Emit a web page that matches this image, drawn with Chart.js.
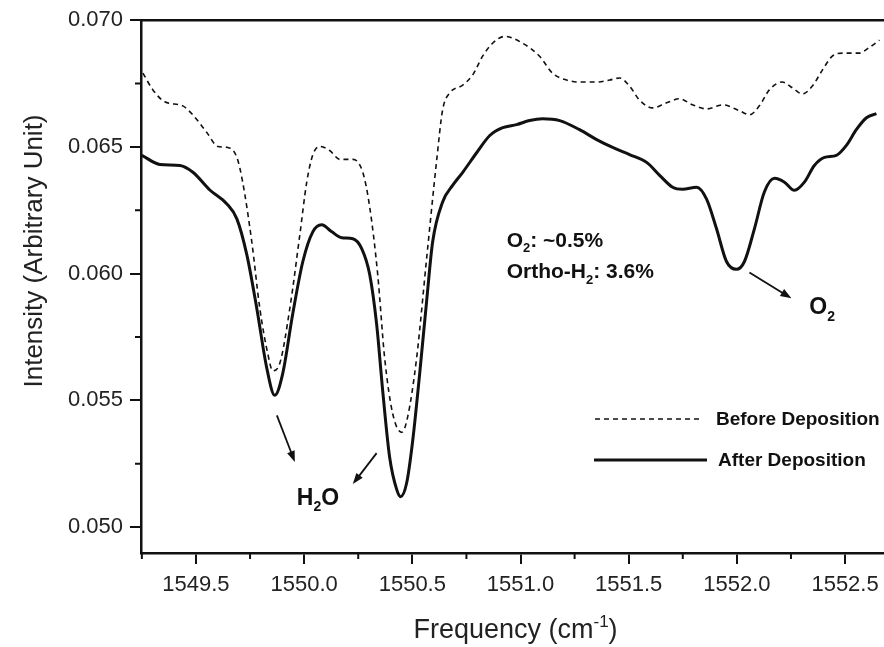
<!DOCTYPE html>
<html lang="en">
<head>
<meta charset="UTF-8">
<title>Before / After Deposition</title>
<script src="https://cdn.jsdelivr.net/npm/chart.js"></script>
<style>
  html, body { margin: 0; padding: 0; background: #fff; }
</style>
</head>
<body>
<canvas id="myChart" width="884" height="647"></canvas>
<script>
const beforeFreq = [1549.255,1549.301,1549.356,1549.439,1549.485,1549.550,1549.601,1549.647,1549.689,1549.716,
  1549.758,1549.795,1549.832,1549.855,1549.887,1549.934,1549.980,1550.012,1550.039,1550.072,
  1550.118,1550.165,1550.225,1550.271,1550.303,1550.340,1550.372,1550.409,1550.451,1550.478,
  1550.520,1550.566,1550.613,1550.640,1550.673,1550.733,1550.779,1550.825,1550.871,1550.927,
  1551.010,1551.088,1551.148,1551.213,1551.273,1551.352,1551.412,1551.458,1551.504,1551.550,
  1551.610,1551.675,1551.735,1551.795,1551.860,1551.934,1552.012,1552.058,1552.104,1552.150,
  1552.210,1552.257,1552.303,1552.349,1552.395,1552.441,1552.488,1552.566,1552.613,1552.659];
const beforeInt = [0.06791,0.06725,0.06678,0.06662,0.06627,0.06557,0.06502,0.06498,0.06459,0.06361,
  0.06126,0.05864,0.05684,0.05617,0.05645,0.05864,0.06153,0.06361,0.06466,0.06502,
  0.06486,0.06451,0.06451,0.06400,0.06263,0.05997,0.05668,0.05449,0.05374,0.05433,
  0.05668,0.06059,0.06451,0.06646,0.06713,0.06744,0.06784,0.06858,0.06909,0.06936,
  0.06909,0.06858,0.06791,0.06764,0.06756,0.06756,0.06764,0.06772,0.06740,0.06685,
  0.06654,0.06674,0.06690,0.06666,0.06650,0.06666,0.06643,0.06627,0.06662,0.06725,
  0.06756,0.06733,0.06709,0.06740,0.06803,0.06858,0.06870,0.06870,0.06893,0.06921];

const afterFreq = [1549.250,1549.333,1549.426,1549.486,1549.564,1549.643,1549.689,1549.735,1549.781,1549.827,
  1549.864,1549.901,1549.947,1549.994,1550.040,1550.081,1550.128,1550.174,1550.225,1550.266,
  1550.303,1550.335,1550.363,1550.395,1550.428,1550.446,1550.474,1550.502,1550.534,1550.566,
  1550.594,1550.640,1550.687,1550.733,1550.798,1550.858,1550.918,1550.982,1551.042,1551.102,
  1551.181,1551.273,1551.352,1551.426,1551.504,1551.583,1551.643,1551.703,1551.749,1551.814,
  1551.860,1551.906,1551.952,1551.998,1552.035,1552.081,1552.127,1552.174,1552.220,1552.266,
  1552.312,1552.358,1552.405,1552.460,1552.506,1552.552,1552.599,1552.645];
const afterInt = [0.06467,0.06431,0.06427,0.06400,0.06330,0.06275,0.06216,0.06075,0.05864,0.05629,
  0.05520,0.05606,0.05840,0.06048,0.06165,0.06193,0.06165,0.06142,0.06138,0.06099,
  0.05997,0.05801,0.05539,0.05277,0.05148,0.05120,0.05175,0.05343,0.05606,0.05891,
  0.06126,0.06283,0.06349,0.06400,0.06478,0.06545,0.06576,0.06588,0.06604,0.06611,
  0.06604,0.06568,0.06529,0.06498,0.06470,0.06439,0.06388,0.06341,0.06333,0.06341,
  0.06294,0.06177,0.06048,0.06017,0.06048,0.06177,0.06322,0.06376,0.06361,0.06329,
  0.06361,0.06427,0.06459,0.06467,0.06506,0.06568,0.06615,0.06631];

const xTicks = [1549.5, 1550.0, 1550.5, 1551.0, 1551.5, 1552.0, 1552.5];
const xMinorTicks = [1549.25, 1549.75, 1550.25, 1550.75, 1551.25, 1551.75, 1552.25];
const yTicks = [0.050, 0.055, 0.060, 0.065, 0.070];
const yMinorTicks = [0.0525, 0.0575, 0.0625, 0.0675];

const INK = '#111';
const FONT = '"Liberation Sans", Arial, sans-serif';

// text with sub/superscripts: parts = [[text, 'sub'|'sup'|null], ...]
function drawParts(ctx, parts, x, y, size, weight) {
  let cx = x;
  parts.forEach(([t, kind]) => {
    const s = kind ? Math.round(size * 0.62) : size;
    ctx.font = weight + ' ' + s + 'px ' + FONT;
    let dy = 0;
    if (kind === 'sub') dy = size * 0.28;
    if (kind === 'sup') dy = -size * 0.42;
    ctx.fillText(t, cx, y + dy);
    cx += ctx.measureText(t).width;
  });
  return cx - x;
}
function partsWidth(ctx, parts, size, weight) {
  let w = 0;
  parts.forEach(([t, kind]) => {
    const s = kind ? Math.round(size * 0.62) : size;
    ctx.font = weight + ' ' + s + 'px ' + FONT;
    w += ctx.measureText(t).width;
  });
  return w;
}
function arrow(ctx, x1, y1, x2, y2) {
  const ang = Math.atan2(y2 - y1, x2 - x1);
  const hl = 11, hw = 4;
  ctx.beginPath();
  ctx.moveTo(x1, y1);
  ctx.lineTo(x2 - Math.cos(ang) * hl * 0.8, y2 - Math.sin(ang) * hl * 0.8);
  ctx.stroke();
  ctx.beginPath();
  ctx.moveTo(x2, y2);
  ctx.lineTo(x2 - Math.cos(ang) * hl + Math.sin(ang) * hw, y2 - Math.sin(ang) * hl - Math.cos(ang) * hw);
  ctx.lineTo(x2 - Math.cos(ang) * hl - Math.sin(ang) * hw, y2 - Math.sin(ang) * hl + Math.cos(ang) * hw);
  ctx.closePath();
  ctx.fill();
}

const decorations = {
  id: 'decorations',
  afterDraw(chart) {
    const { ctx, chartArea: a, scales: { x, y } } = chart;
    ctx.save();
    ctx.strokeStyle = INK;
    ctx.fillStyle = INK;

    // top frame line
    ctx.lineWidth = 2.5;
    ctx.beginPath();
    ctx.moveTo(a.left - 1, a.top);
    ctx.lineTo(a.right, a.top);
    ctx.stroke();

    // minor ticks
    ctx.lineWidth = 2;
    ctx.beginPath();
    xMinorTicks.forEach(v => {
      const px = x.getPixelForValue(v);
      if (px < a.left - 1 || px > a.right) return;
      ctx.moveTo(px, a.bottom);
      ctx.lineTo(px, a.bottom + 6);
    });
    yMinorTicks.forEach(v => {
      const py = y.getPixelForValue(v);
      ctx.moveTo(a.left, py);
      ctx.lineTo(a.left - 6, py);
    });
    ctx.stroke();

    // axis titles
    ctx.textBaseline = 'alphabetic';
    ctx.textAlign = 'left';
    ctx.fillStyle = '#222';
    const xt = [['Frequency (cm', null], ['-1', 'sup'], [')', null]];
    const xw = partsWidth(ctx, xt, 27, 'normal');
    drawParts(ctx, xt, (a.left + a.right) / 2 + 3 - xw / 2, 638, 27, 'normal');

    ctx.save();
    ctx.translate(42, 251);
    ctx.rotate(-Math.PI / 2);
    ctx.font = 'normal 26px ' + FONT;
    ctx.textAlign = 'center';
    ctx.fillText('Intensity (Arbitrary Unit)', 0, 0);
    ctx.restore();

    // legend
    ctx.fillStyle = INK;
    const ds = chart.data.datasets;
    const rows = [{ y: 419, x1: 595, x2: 700, tx: 716 }, { y: 460, x1: 594, x2: 707, tx: 718 }];
    ds.forEach((d, i) => {
      const r = rows[i];
      ctx.lineWidth = d.borderWidth;
      ctx.setLineDash(d.borderDash || []);
      ctx.beginPath();
      ctx.moveTo(r.x1, r.y);
      ctx.lineTo(r.x2, r.y);
      ctx.stroke();
      ctx.setLineDash([]);
      ctx.font = 'bold 19px ' + FONT;
      ctx.textBaseline = 'middle';
      ctx.fillText(d.label, r.tx, r.y + 1);
    });

    // annotations (placed in data coordinates)
    ctx.textBaseline = 'alphabetic';
    const P = (fx, iy) => [x.getPixelForValue(fx), y.getPixelForValue(iy)];
    ctx.lineWidth = 1.8;
    let p1 = P(1549.874, 0.05441), p2 = P(1549.957, 0.05257);
    arrow(ctx, p1[0], p1[1], p2[0], p2[1]);
    p1 = P(1550.335, 0.05292); p2 = P(1550.225, 0.05170);
    arrow(ctx, p1[0], p1[1], p2[0], p2[1]);
    p1 = P(1552.058, 0.06005); p2 = P(1552.252, 0.05903);
    arrow(ctx, p1[0], p1[1], p2[0], p2[1]);

    let t = P(1549.966, 0.05089);
    drawParts(ctx, [['H', null], ['2', 'sub'], ['O', null]], t[0], t[1], 23, 'bold');
    t = P(1552.335, 0.05840);
    drawParts(ctx, [['O', null], ['2', 'sub']], t[0], t[1], 23, 'bold');
    t = P(1550.936, 0.06107);
    drawParts(ctx, [['O', null], ['2', 'sub'], [': ~0.5%', null]], t[0], t[1], 21, 'bold');
    t = P(1550.936, 0.05981);
    drawParts(ctx, [['Ortho-H', null], ['2', 'sub'], [': 3.6%', null]], t[0], t[1], 21, 'bold');

    ctx.restore();
  }
};

const ctx = document.getElementById('myChart').getContext('2d');
const myChart = new Chart(ctx, {
  type: 'line',
  data: {
    datasets: [{
      label: 'Before Deposition',
      data: beforeFreq.map((f, i) => ({ x: f, y: beforeInt[i] })),
      borderColor: INK,
      borderWidth: 1.6,
      borderDash: [5, 4],
      pointRadius: 0,
      cubicInterpolationMode: 'monotone',
      fill: false
    }, {
      label: 'After Deposition',
      data: afterFreq.map((f, i) => ({ x: f, y: afterInt[i] })),
      borderColor: INK,
      borderWidth: 3,
      pointRadius: 0,
      cubicInterpolationMode: 'monotone',
      fill: false
    }]
  },
  options: {
    responsive: false,
    animation: false,
    devicePixelRatio: 1,
    layout: { padding: { top: 17, left: 0, right: 0, bottom: 0 } },
    plugins: {
      legend: { display: false },
      tooltip: { enabled: false }
    },
    scales: {
      x: {
        type: 'linear',
        min: 1549.246,
        max: 1552.68,
        afterBuildTicks: s => { s.ticks = xTicks.map(v => ({ value: v })); },
        afterFit: s => { s.height = 94; s.paddingLeft = 0; s.paddingRight = 0; },
        grid: { drawOnChartArea: false, tickLength: 11, color: INK, lineWidth: 2 },
        border: { display: true, color: INK, width: 2.5 },
        ticks: {
          padding: 8,
          color: '#222',
          font: { family: FONT, size: 22 },
          callback: v => v.toFixed(1),
          maxRotation: 0
        }
      },
      y: {
        type: 'linear',
        min: 0.04898,
        max: 0.070,
        afterBuildTicks: s => { s.ticks = yTicks.map(v => ({ value: v })); },
        afterFit: s => { s.width = 141; },
        grid: { drawOnChartArea: false, tickLength: 11, color: INK, lineWidth: 2 },
        border: { display: true, color: INK, width: 2.5 },
        ticks: {
          padding: 7,
          color: '#222',
          font: { family: FONT, size: 22 },
          callback: v => v.toFixed(3)
        }
      }
    }
  },
  plugins: [decorations]
});
</script>
</body>
</html>
